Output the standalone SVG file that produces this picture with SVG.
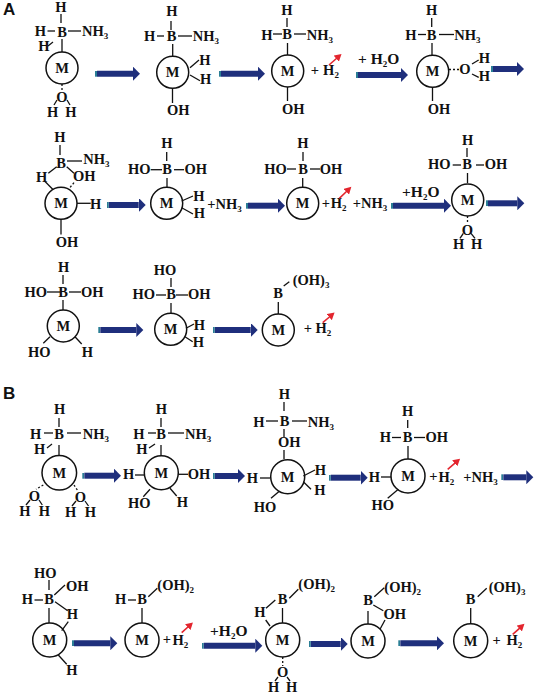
<svg xmlns="http://www.w3.org/2000/svg" width="536" height="695" viewBox="0 0 536 695">
<style>
text{font-family:"Liberation Serif","Times New Roman",serif;font-weight:700;font-size:14.5px;fill:#111;text-anchor:middle}
.l{text-anchor:start}
.w{font-size:15.5px}
.s{font-size:9px}
.p{font-family:"Liberation Sans",Arial,sans-serif;font-size:17px;text-anchor:start}
circle{fill:#fff;stroke:#111;stroke-width:1.5}
line{stroke:#111;stroke-width:1.3}
.d{stroke-dasharray:2 2}
line.a{stroke:#1f2f7c;stroke-width:6;marker-start:url(#tail);marker-end:url(#head)}
line.r{stroke:#e3252e;stroke-width:1.6;marker-end:url(#red)}
</style>
<defs>
<marker id="head" markerUnits="userSpaceOnUse" markerWidth="8" markerHeight="14" refX="0" refY="7" orient="auto"><path d="M0 0L7 7L0 14Z" fill="#1f2f7c"/></marker>
<marker id="tail" markerUnits="userSpaceOnUse" markerWidth="2" markerHeight="6" refX="2" refY="3" orient="auto"><rect width="2" height="6" fill="#2b7f96"/></marker>
<marker id="red" markerUnits="userSpaceOnUse" markerWidth="8" markerHeight="8" refX="1" refY="4" orient="auto"><path d="M0 0L7 4L0 8Z" fill="#e3252e"/></marker>
</defs>
<text class="p" x="3" y="15">A</text>
<text class="p" x="3" y="399">B</text>

<g id="n1"><circle cx="62" cy="68" r="16"/><text x="62" y="73">M</text>
<text x="61" y="11.5">H</text><line x1="61" y1="14" x2="61" y2="23"/><text x="62" y="36.5">B</text>
<text x="40.5" y="36">H</text><line x1="47.5" y1="31" x2="55" y2="31"/><text class="l" x="82" y="36">NH<tspan class="s" dy="3">3</tspan></text><line x1="68" y1="31" x2="81" y2="31"/>
<text x="44" y="51">H</text><line x1="48" y1="46" x2="53" y2="42"/><line x1="62" y1="39" x2="62" y2="52"/>
<line class="d" x1="62" y1="84" x2="62" y2="91"/><text x="62" y="101.5">O</text><text x="52.7" y="116.5">H</text><text x="71" y="116.5">H</text>
<line x1="54" y1="105" x2="57" y2="100"/><line x1="70" y1="105" x2="67" y2="100"/></g>

<g id="n2"><circle cx="172.7" cy="72.3" r="16"/><text x="172.7" y="77.3">M</text>
<text x="172" y="16">H</text><line x1="171" y1="21" x2="171" y2="30"/><text x="171.7" y="41">B</text>
<text x="149.7" y="41">H</text><line x1="157" y1="36" x2="164" y2="36"/><text class="l" x="192.7" y="41">NH<tspan class="s" dy="3">3</tspan></text><line x1="178" y1="36" x2="192" y2="36"/>
<line x1="172.7" y1="44" x2="172.7" y2="56"/><text x="205" y="65">H</text><text x="205.7" y="84">H</text>
<line x1="190" y1="67.7" x2="199" y2="60"/><line x1="190" y1="75" x2="200" y2="80.7"/>
<line x1="172.5" y1="88" x2="172.5" y2="103"/><text x="178.3" y="115">OH</text></g>

<g id="n3"><circle cx="287.7" cy="71" r="16"/><text x="287.7" y="76">M</text>
<text x="287" y="14.7">H</text><line x1="287" y1="18" x2="287" y2="27"/><text x="287" y="39.3">B</text>
<text x="267" y="39.5">H</text><line x1="273" y1="34" x2="282" y2="34"/><text class="l" x="306.7" y="39.5">NH<tspan class="s" dy="3">3</tspan></text><line x1="294" y1="34" x2="306" y2="34"/>
<line x1="287.5" y1="43" x2="287.5" y2="55"/><line x1="287.5" y1="87" x2="287.5" y2="101"/><text x="293.3" y="114">OH</text>
<text x="315" y="75">+</text><text x="331" y="75">H<tspan class="s" dy="3">2</tspan></text></g>

<g id="n4"><circle cx="432.7" cy="71.3" r="16"/><text x="432.7" y="76.3">M</text>
<text x="431.7" y="15">H</text><line x1="431.7" y1="18" x2="431.7" y2="27"/><text x="431.7" y="39.5">B</text>
<text x="411" y="39.5">H</text><line x1="418" y1="34.5" x2="426" y2="34.5"/><text class="l" x="454.3" y="39.5">NH<tspan class="s" dy="3">3</tspan></text><line x1="439" y1="34.5" x2="454" y2="34.5"/>
<line x1="432" y1="43" x2="432" y2="55"/><line class="d" x1="449" y1="69.5" x2="459" y2="69.5"/><text x="465" y="74">O</text>
<text x="484.3" y="63.3">H</text><text x="484.3" y="80.7">H</text><line x1="472" y1="64" x2="478.7" y2="60"/><line x1="472" y1="74" x2="478.7" y2="77.3"/>
<line x1="432.5" y1="87" x2="432.5" y2="101"/><text x="439" y="114">OH</text></g>

<g id="n5"><circle cx="61" cy="203.3" r="16"/><text x="61" y="208.3">M</text>
<text x="60" y="141.7">H</text><line x1="60" y1="145" x2="60" y2="155"/><text x="61" y="167.7">B</text>
<text class="l" x="83.3" y="164">NH<tspan class="s" dy="3">3</tspan></text><line x1="67" y1="161" x2="82" y2="161"/>
<text x="41.7" y="181.7">H</text><line x1="56.7" y1="166.7" x2="48.3" y2="173.3"/><line x1="44.3" y1="180.7" x2="52.7" y2="189.3"/>
<text x="84.3" y="181.3">OH</text><line x1="66.7" y1="166.7" x2="74" y2="173.3"/><line class="d" x1="74" y1="182.7" x2="69.3" y2="188.3"/>
<line x1="77" y1="203.3" x2="90.7" y2="203.3"/><text x="95.7" y="208.7">H</text>
<line x1="61" y1="219" x2="61" y2="234.5"/><text x="67" y="247.3">OH</text></g>

<g id="n6"><circle cx="166.7" cy="203.3" r="16"/><text x="166.7" y="208.3">M</text>
<text x="167" y="148.3">H</text><line x1="166.7" y1="152" x2="166.7" y2="161"/><text x="167" y="174.3">B</text>
<text x="139.3" y="174.3">HO</text><text x="195.7" y="174.3">OH</text><line x1="150.7" y1="169.7" x2="162" y2="169.7"/><line x1="174" y1="169.7" x2="184" y2="169.7"/>
<line x1="167" y1="178" x2="167" y2="187"/><text x="199" y="201.3">H</text><text x="199.3" y="217.7">H</text>
<line x1="181.7" y1="201" x2="193" y2="196"/><line x1="181.7" y1="207.7" x2="193" y2="214"/>
<text class="l" x="207.3" y="209.3">+NH<tspan class="s" dy="3">3</tspan></text></g>

<g id="n7"><circle cx="302.7" cy="203.3" r="16"/><text x="302.7" y="208.3">M</text>
<text x="303" y="148.3">H</text><line x1="303" y1="152" x2="303" y2="161"/><text x="303" y="174">B</text>
<text x="275.5" y="174">HO</text><text x="331" y="174">OH</text><line x1="287" y1="169" x2="296" y2="169"/><line x1="310" y1="169" x2="320" y2="169"/>
<line x1="302.7" y1="178" x2="302.7" y2="187"/><text x="326" y="207.7">+</text><text x="338.7" y="207.7">H<tspan class="s" dy="3">2</tspan></text>
<text class="l" x="352.7" y="207.7">+NH<tspan class="s" dy="3">3</tspan></text></g>

<g id="n8"><circle cx="467.7" cy="200" r="16"/><text x="467.7" y="205">M</text>
<text x="467.7" y="145">H</text><line x1="467" y1="148" x2="467" y2="157"/><text x="467" y="169.3">B</text>
<text x="439.3" y="169.3">HO</text><text x="496" y="169.3">OH</text><line x1="452.7" y1="165" x2="461" y2="165"/><line x1="476" y1="165" x2="484" y2="165"/>
<line x1="467.5" y1="173" x2="467.5" y2="183"/><line class="d" x1="467.5" y1="216" x2="467.5" y2="224"/><text x="467.3" y="235">O</text>
<text x="458.7" y="249.3">H</text><text x="476.7" y="249.3">H</text><line x1="460" y1="238.3" x2="463.3" y2="233.3"/><line x1="475" y1="238.3" x2="471" y2="233.3"/></g>

<g id="n9"><circle cx="63.3" cy="326" r="16"/><text x="63.3" y="331">M</text>
<text x="63.7" y="271.7">H</text><line x1="63" y1="275" x2="63" y2="284"/><text x="63" y="296.7">B</text>
<text x="35.7" y="296.5">HO</text><text x="92.3" y="296.5">OH</text><line x1="47" y1="292" x2="60" y2="292"/><line x1="69" y1="292" x2="81" y2="292"/>
<line x1="63" y1="300" x2="63" y2="310"/><text x="39.3" y="356.7">HO</text><text x="87.3" y="356.7">H</text>
<line x1="43.3" y1="343.3" x2="50" y2="336.7"/><line x1="75" y1="336.7" x2="81.7" y2="344"/></g>

<g id="n10"><circle cx="170.7" cy="329.3" r="16"/><text x="170.7" y="334.3">M</text>
<text x="165" y="275">HO</text><line x1="171" y1="278" x2="171" y2="287"/><text x="171" y="299.3">B</text>
<text x="143.7" y="299.3">HO</text><text x="199.3" y="299.3">OH</text><line x1="156" y1="295" x2="166" y2="295"/><line x1="176" y1="295" x2="188" y2="295"/>
<line x1="171" y1="303" x2="171" y2="313"/><text x="199.3" y="330">H</text><text x="198.3" y="346.7">H</text>
<line x1="186" y1="328.3" x2="194" y2="324"/><line x1="185" y1="336.7" x2="192.7" y2="341.7"/></g>

<g id="n11"><circle cx="278.3" cy="330" r="16"/><text x="278.3" y="335">M</text>
<text x="278" y="297.7">B</text><text class="l" x="292.7" y="285">(OH)<tspan class="s" dy="3">3</tspan></text><line x1="283.7" y1="286" x2="289.3" y2="281.7"/>
<line x1="278.3" y1="302" x2="278.3" y2="314"/><text x="308" y="333.3">+</text><text x="323.3" y="333.3">H<tspan class="s" dy="3">2</tspan></text></g>

<g id="n12"><circle cx="59.3" cy="472.7" r="17.3"/><text x="59.3" y="478">M</text>
<text x="59.7" y="414.3">H</text><line x1="59" y1="418" x2="59" y2="427"/><text x="59" y="439.3">B</text>
<text x="35.7" y="439">H</text><line x1="44" y1="433" x2="53" y2="433"/><text class="l" x="82.7" y="439">NH<tspan class="s" dy="3">3</tspan></text><line x1="67" y1="433" x2="81" y2="433"/>
<text x="39.7" y="454">H</text><line x1="47" y1="448" x2="52" y2="444"/><line x1="59" y1="445" x2="59" y2="455"/>
<line class="d" x1="43.3" y1="485" x2="36" y2="489.3"/><text x="34.3" y="500.7">O</text><text x="25" y="516">H</text><text x="44.3" y="516">H</text>
<line x1="26" y1="505" x2="30" y2="500"/><line x1="42.3" y1="505" x2="39" y2="500"/>
<line class="d" x1="74" y1="485" x2="77.3" y2="490"/><text x="80.3" y="501.7">O</text><text x="70.7" y="517.3">H</text><text x="90.3" y="517.3">H</text>
<line x1="72" y1="506" x2="76" y2="501"/><line x1="88.5" y1="506" x2="85" y2="501"/></g>

<g id="n13"><circle cx="161.3" cy="472.7" r="17"/><text x="161.3" y="478">M</text>
<text x="161.3" y="414.3">H</text><line x1="161" y1="418" x2="161" y2="427"/><text x="161" y="439.3">B</text>
<text x="139" y="439.3">H</text><line x1="148" y1="433" x2="156" y2="433"/><text class="l" x="185" y="439.3">NH<tspan class="s" dy="3">3</tspan></text><line x1="168" y1="433" x2="184" y2="433"/>
<text x="142" y="454">H</text><line x1="149" y1="448" x2="155" y2="444"/><line x1="161" y1="445" x2="161" y2="456"/>
<text x="128.7" y="479.3">H</text><line x1="135" y1="475" x2="144" y2="475"/><line x1="178.3" y1="474.3" x2="188" y2="474.3"/><text x="199" y="479.3">OH</text>
<text x="139.3" y="508.3">HO</text><line x1="143.3" y1="496.7" x2="150" y2="489.3"/><text x="182.3" y="506.7">H</text><line x1="170" y1="488.3" x2="176.7" y2="496"/></g>

<g id="n14"><circle cx="287.7" cy="476.7" r="17"/><text x="287.7" y="482">M</text>
<text x="284.3" y="399">H</text><line x1="284" y1="402" x2="284" y2="411"/><text x="284.5" y="425.7">B</text>
<text x="259" y="426.7">H</text><line x1="266" y1="421" x2="278" y2="421"/><text class="l" x="307.7" y="426.7">NH<tspan class="s" dy="3">3</tspan></text><line x1="292" y1="421" x2="307" y2="421"/>
<line x1="284" y1="429" x2="284" y2="437"/><text x="289.3" y="447.3">OH</text><line x1="284" y1="450" x2="284" y2="459"/>
<text x="320.3" y="475">H</text><text x="320" y="495.3">H</text><line x1="303.3" y1="476" x2="315" y2="470"/><line x1="303.3" y1="481.7" x2="311" y2="489.3"/>
<text x="252.3" y="482.7">H</text><line x1="260" y1="478" x2="270" y2="478"/><text x="265" y="511.7">HO</text><line x1="271" y1="498.3" x2="278.7" y2="491.7"/></g>

<g id="n15"><circle cx="408" cy="476" r="17"/><text x="408" y="481.3">M</text>
<text x="407.7" y="416">H</text><line x1="407.7" y1="420" x2="407.7" y2="428"/><text x="407.7" y="442.3">B</text>
<text x="385.3" y="442.3">H</text><line x1="392" y1="437.5" x2="401" y2="437.5"/><text x="436.7" y="442.3">OH</text><line x1="414" y1="437.5" x2="425" y2="437.5"/>
<line x1="408" y1="446" x2="408" y2="459"/><text x="374.3" y="481.7">H</text><line x1="381" y1="477" x2="391" y2="477"/>
<text x="382.7" y="510">HO</text><line x1="387.7" y1="498.3" x2="398.3" y2="489.3"/>
<text x="433.3" y="480.7">+</text><text x="446.3" y="481.5">H<tspan class="s" dy="3">2</tspan></text><text class="l" x="463.3" y="481.5">+NH<tspan class="s" dy="3">3</tspan></text></g>

<g id="n16"><circle cx="49.7" cy="640" r="17"/><text x="49.7" y="645.3">M</text>
<text x="45.3" y="577.7">HO</text><line x1="49" y1="580" x2="49" y2="590"/><text x="49" y="604.3">B</text>
<text x="27.3" y="604.3">H</text><line x1="34.5" y1="600" x2="43" y2="600"/><text x="77.3" y="591">OH</text><line x1="54.3" y1="595" x2="65" y2="585"/>
<text x="72.3" y="619">H</text><line x1="55" y1="601.7" x2="67.7" y2="610.7"/><line x1="49" y1="608" x2="49" y2="623"/>
<line x1="68.3" y1="621.7" x2="61.7" y2="630.7"/><line x1="58.3" y1="655" x2="66.7" y2="664.3"/><text x="72" y="675">H</text></g>

<g id="n17"><circle cx="142" cy="640" r="17"/><text x="142" y="645.3">M</text>
<text x="120.7" y="604.3">H</text><text x="142" y="604.3">B</text><line x1="128" y1="600" x2="136" y2="600"/>
<text class="l" x="157.3" y="590">(OH)<tspan class="s" dy="3">2</tspan></text><line x1="148.3" y1="596.7" x2="157.3" y2="588.3"/><line x1="142" y1="608" x2="142" y2="623"/>
<text x="167" y="644.3">+</text><text x="180.3" y="645">H<tspan class="s" dy="3">2</tspan></text></g>

<g id="n18"><circle cx="282.7" cy="640" r="17"/><text x="282.7" y="645.3">M</text>
<text x="260" y="616.7">H</text><line x1="266" y1="608.3" x2="275.3" y2="600"/><text x="282.7" y="604">B</text><line x1="265.7" y1="620" x2="270" y2="626"/>
<text class="l" x="298.3" y="589.3">(OH)<tspan class="s" dy="3">2</tspan></text><line x1="289.3" y1="598.3" x2="298.3" y2="589.3"/><line x1="282.5" y1="608" x2="282.5" y2="623"/>
<line class="d" x1="282.7" y1="657" x2="282.7" y2="666"/><text x="282.7" y="677.3">O</text><text x="273.7" y="691.7">H</text><text x="291.7" y="691.7">H</text>
<line x1="275" y1="681" x2="278" y2="677"/><line x1="290" y1="681" x2="287" y2="677"/></g>

<g id="n19"><circle cx="368" cy="641" r="17"/><text x="368" y="646.3">M</text>
<text x="368" y="605">B</text><text class="l" x="384.3" y="591.7">(OH)<tspan class="s" dy="3">2</tspan></text><line x1="374.3" y1="596.7" x2="384.3" y2="587.7"/>
<text x="394.7" y="619">OH</text><line x1="373.3" y1="605" x2="383.3" y2="610.7"/><line x1="368" y1="611" x2="368" y2="624"/><line x1="385" y1="620" x2="380" y2="629.3"/></g>

<g id="n20"><circle cx="470.7" cy="640.7" r="17"/><text x="470.7" y="646">M</text>
<text x="470.7" y="604.3">B</text><text class="l" x="488.7" y="591.7">(OH)<tspan class="s" dy="3">3</tspan></text><line x1="477.7" y1="596.7" x2="486.7" y2="588.3"/>
<line x1="470.7" y1="608" x2="470.7" y2="624"/><text x="496.7" y="645">+</text><text x="514.3" y="645">H<tspan class="s" dy="3">2</tspan></text></g>

<g id="reagents">
<text class="l w" x="358" y="64.3">+ H<tspan class="s" dy="3">2</tspan><tspan dy="-3">O</tspan></text>
<text class="l w" x="402" y="196.7">+H<tspan class="s" dy="3">2</tspan><tspan dy="-3">O</tspan></text>
<text class="l w" x="210" y="636">+H<tspan class="s" dy="3">2</tspan><tspan dy="-3">O</tspan></text>
</g>

<g id="connectors">
<line class="a" x1="97" y1="73.7" x2="133" y2="73.7"/>
<line class="a" x1="221" y1="73.7" x2="258" y2="73.7"/>
<line class="a" x1="358" y1="75" x2="401" y2="75"/>
<line class="a" x1="493" y1="69" x2="517" y2="69"/>
<line class="a" x1="108.7" y1="205" x2="138.7" y2="205"/>
<line class="a" x1="248" y1="205.7" x2="278" y2="205.7"/>
<line class="a" x1="393" y1="205.7" x2="444" y2="205.7"/>
<line class="a" x1="488" y1="203.3" x2="517.3" y2="203.3"/>
<line class="a" x1="100.3" y1="330" x2="136.3" y2="330"/>
<line class="a" x1="214.7" y1="330" x2="250.7" y2="330"/>
<line class="a" x1="84.3" y1="475.7" x2="114" y2="475.7"/>
<line class="a" x1="214.7" y1="476" x2="238" y2="476"/>
<line class="a" x1="330.7" y1="477.7" x2="360.7" y2="477.7"/>
<line class="a" x1="503.3" y1="477.3" x2="526.3" y2="477.3"/>
<line class="a" x1="74" y1="643.3" x2="110.3" y2="643.3"/>
<line class="a" x1="203.7" y1="645.7" x2="255.3" y2="645.7"/>
<line class="a" x1="310.7" y1="644" x2="340.7" y2="644"/>
<line class="a" x1="400.3" y1="643.3" x2="437" y2="643.3"/>
<line class="r" x1="329" y1="65" x2="337" y2="58"/>
<line class="r" x1="339.3" y1="198.3" x2="347" y2="191"/>
<line class="r" x1="322.7" y1="322.7" x2="330" y2="316.5"/>
<line class="r" x1="447.7" y1="469.3" x2="455.5" y2="462.7"/>
<line class="r" x1="181.7" y1="632.7" x2="188.5" y2="626.5"/>
<line class="r" x1="512.7" y1="634.3" x2="520" y2="627.8"/>
</g>
</svg>
